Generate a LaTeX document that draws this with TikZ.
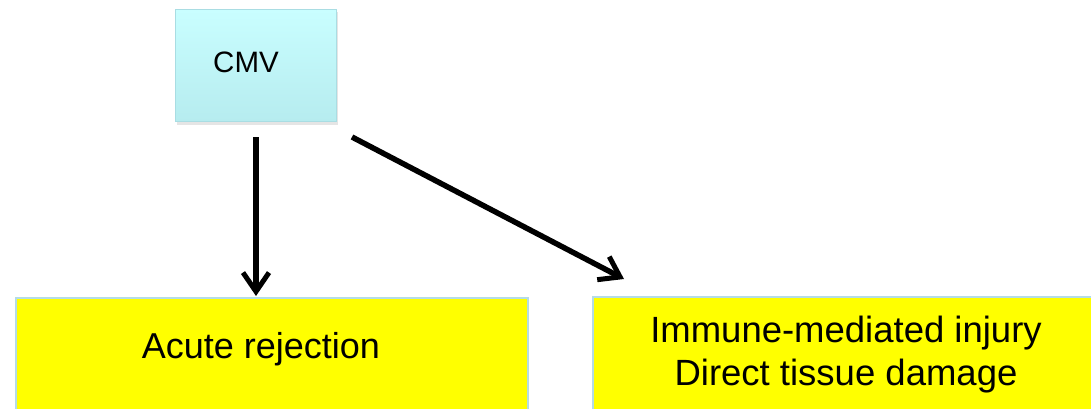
\documentclass[tikz,border=0pt]{standalone}
\usepackage{fontspec}
\setmainfont{Liberation Sans}
\usetikzlibrary{arrows.meta}
\definecolor{cmvtop}{HTML}{C9FEFF}
\definecolor{cmvbot}{HTML}{B6ECEF}
\definecolor{cmvborder}{HTML}{A9DDE3}
\definecolor{ybord}{HTML}{B4DCE6}
\definecolor{ylw}{RGB}{255,255,0}
\tikzset{
  cmvbox/.style={draw=cmvborder, line width=1pt, top color=cmvtop, bottom color=cmvbot, minimum width=161pt, minimum height=112pt, inner sep=0pt},
  ybox/.style={draw=ybord, line width=1.5pt, fill=ylw, inner sep=0pt, minimum width=512pt, minimum height=125pt},
  btext/.style={font=\fontsize{36.5}{43}\selectfont, align=center},
  arr/.style={line width=5.5pt, -{Straight Barb[length=19pt, width=26pt, line width=5pt]}}
}
\begin{document}
\begin{tikzpicture}[x=1pt,y=-1pt]
\useasboundingbox (0,0) rectangle (1091,409);
\fill[black!10] (177,12) rectangle (338,125);
\node[cmvbox, anchor=north west] (cmv) at (175,9) {};
\node[font=\fontsize{29.5}{34}\selectfont] (cmvt) at (246,62) {CMV};
\node[ybox, anchor=north west] (acute) at (15,297) {};
\node[btext, font=\fontsize{36}{43}\selectfont] (acutet) at (261,349) {Acute rejection};
\node[ybox, anchor=north west] (imm) at (592,296) {};
\node[btext] (immt) at (846,355) {Immune-mediated injury\\Direct tissue damage};
\coordinate (s1) at (256,137);
\coordinate (e1) at (256,296);
\coordinate (s2) at (352,137);
\coordinate (e2) at (624,279);
\draw[arr] (s1) -- (e1);
\draw[arr] (s2) -- (e2);
\end{tikzpicture}
\end{document}
